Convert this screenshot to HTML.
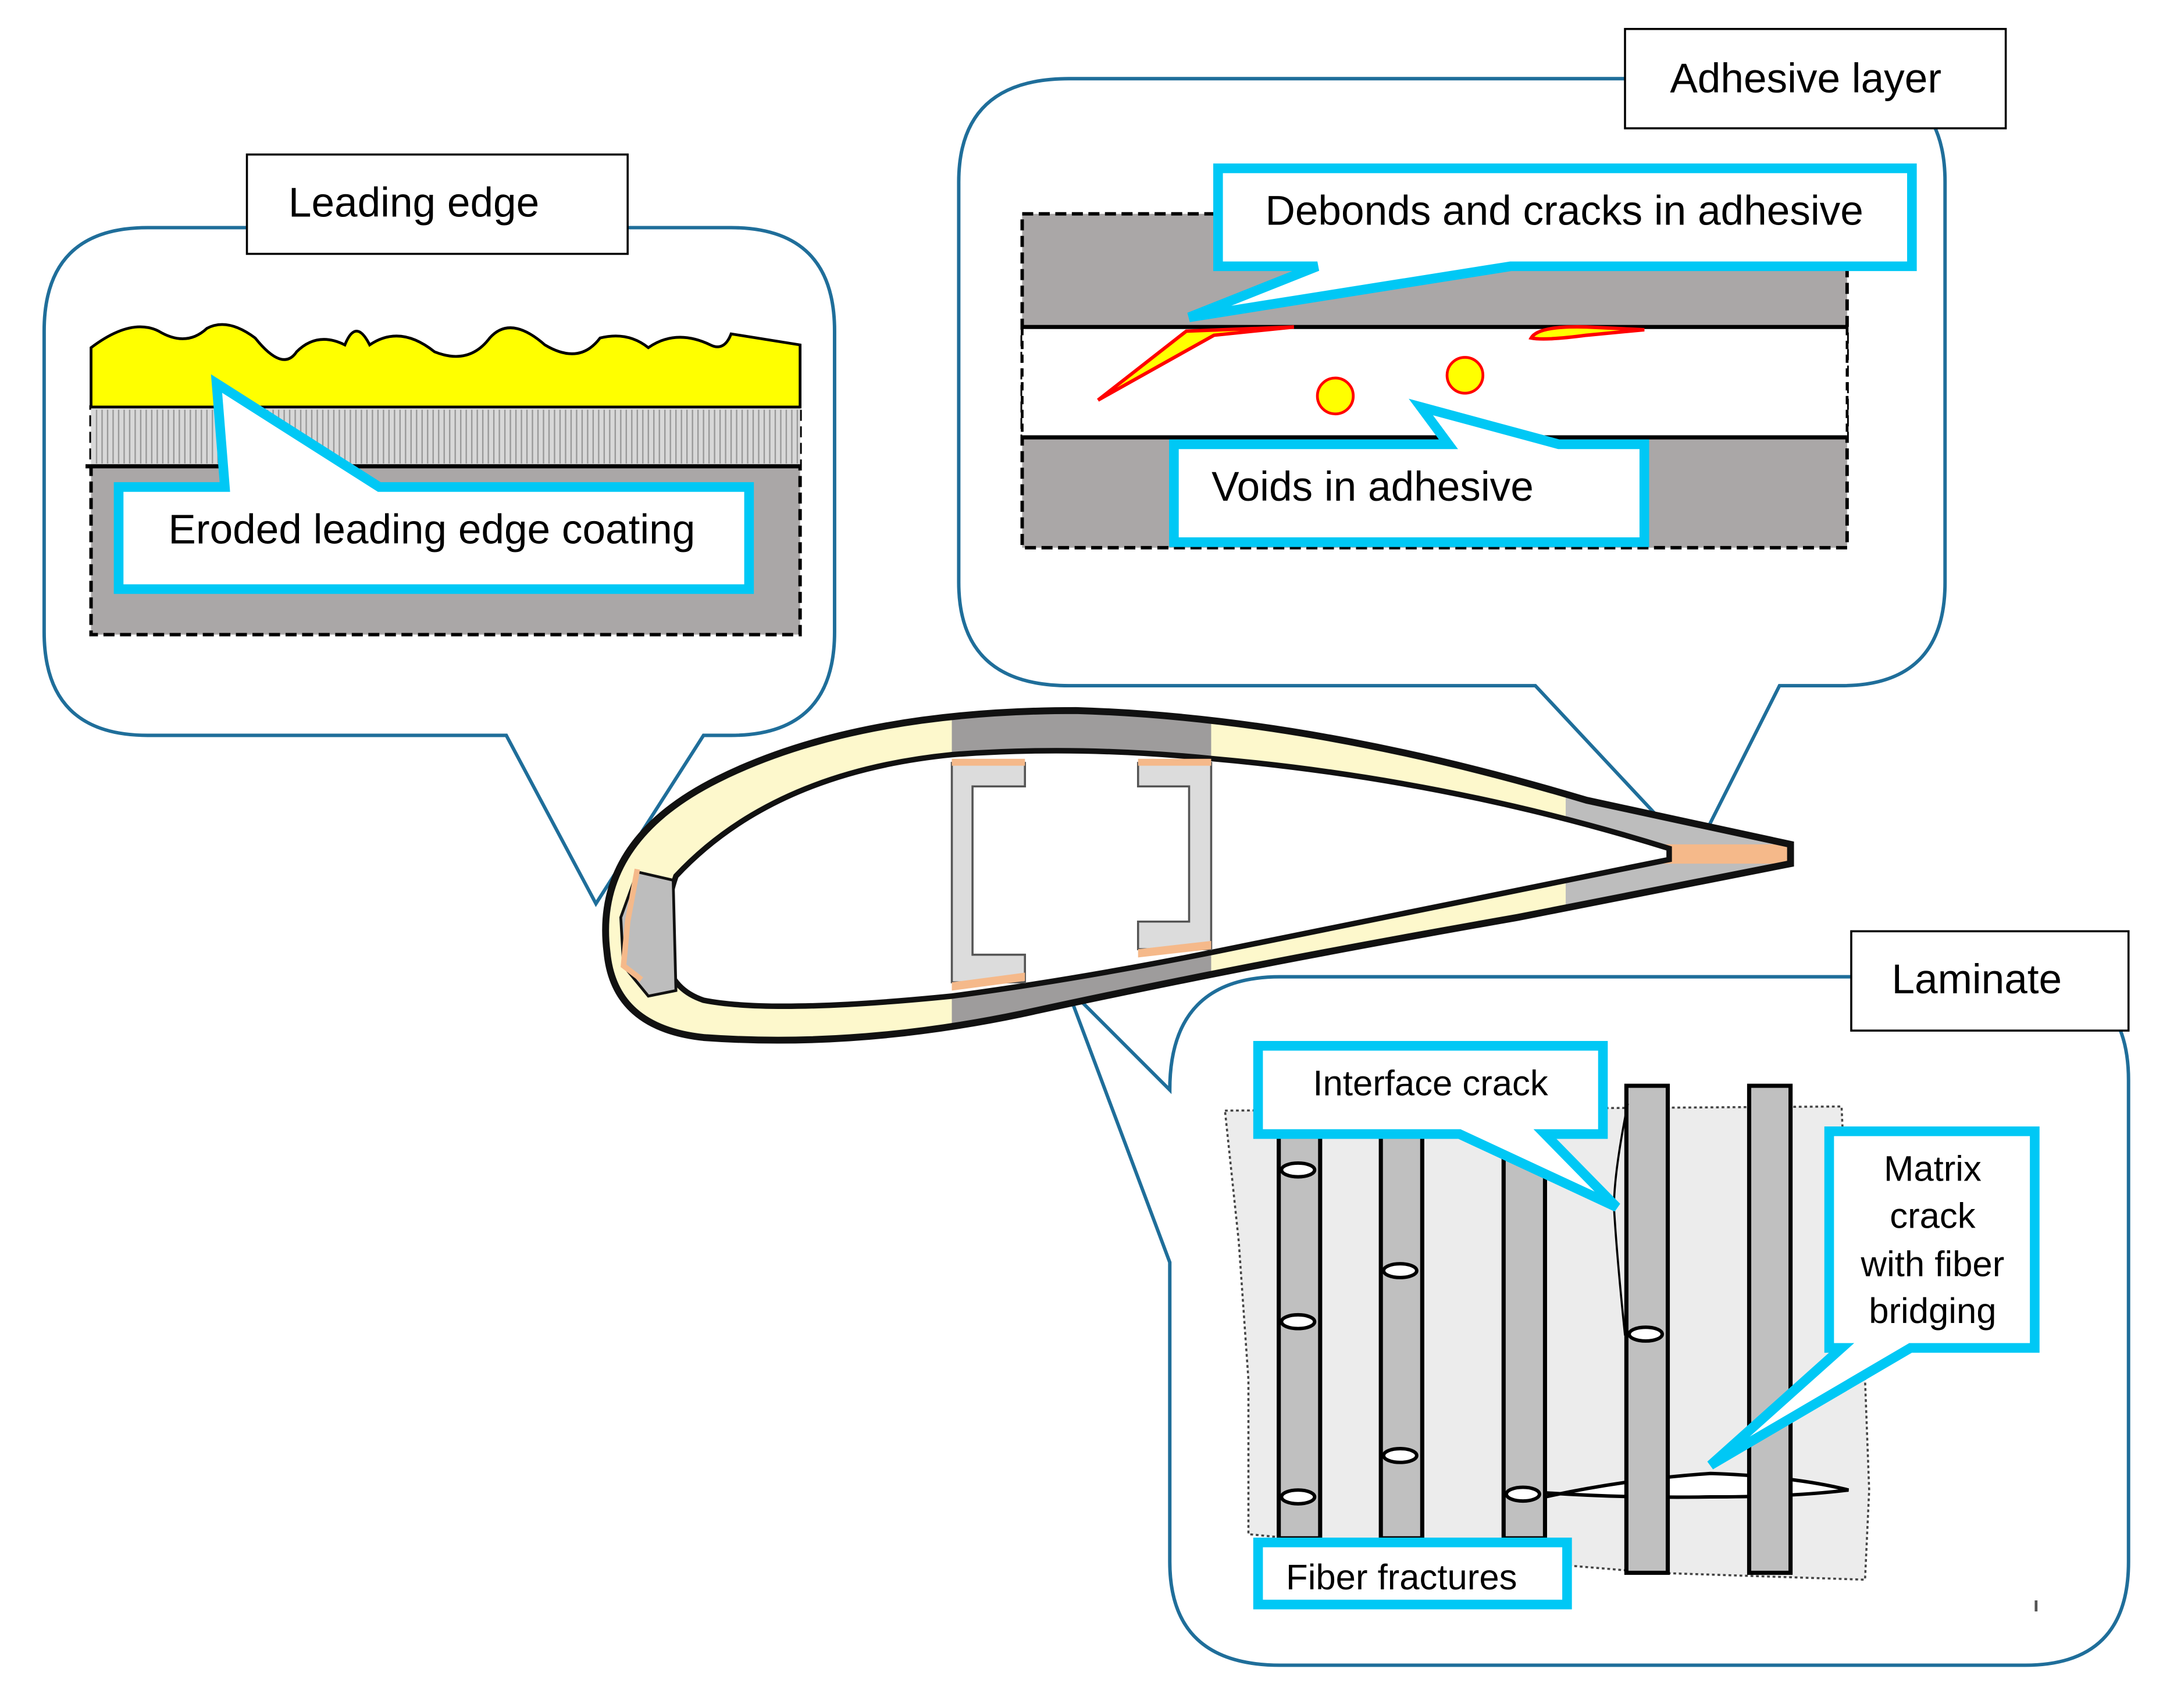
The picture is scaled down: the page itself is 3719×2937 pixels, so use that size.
<!DOCTYPE html>
<html><head><meta charset="utf-8"><style>
html,body{margin:0;padding:0;background:#fff}
svg{display:block}
text{font-family:"Liberation Sans",sans-serif}
</style></head><body>
<svg width="3719" height="2937" viewBox="0 0 1568 1238" preserveAspectRatio="none" xmlns="http://www.w3.org/2000/svg">
<rect width="1600" height="1260" fill="#fff"/>
<path d="M107,165 H530 Q605,165 605,240 V458 Q605,533 530,533 H510 L432,655 L367,533 H107 Q32,533 32,458 V240 Q32,165 107,165 Z" fill="#fff" stroke="#1f6e9a" stroke-width="2.5"/>
<rect x="179" y="112" width="276" height="72" fill="#fff" stroke="#000" stroke-width="1.5"/>
<text x="300" y="157" font-size="30" text-anchor="middle">Leading edge</text>
<rect x="66" y="295" width="514" height="165" fill="#aaa7a7" stroke="#000" stroke-width="2.5" stroke-dasharray="8,4"/>
<rect x="66" y="295" width="514" height="43" fill="#d8d8d8"/>
<g stroke="#999" stroke-width="1">
<path d="M70,297V336M74,297V336M78,297V336M82,297V336M86,297V336M90,297V336M94,297V336M98,297V336M102,297V336M106,297V336M110,297V336M114,297V336M118,297V336M122,297V336M126,297V336M130,297V336M134,297V336M138,297V336M142,297V336M146,297V336M150,297V336M154,297V336M158,297V336M162,297V336M166,297V336M170,297V336M174,297V336M178,297V336M182,297V336M186,297V336M190,297V336M194,297V336M198,297V336M202,297V336M206,297V336M210,297V336M214,297V336M218,297V336M222,297V336M226,297V336M230,297V336M234,297V336M238,297V336M242,297V336M246,297V336M250,297V336M254,297V336M258,297V336M262,297V336M266,297V336M270,297V336M274,297V336M278,297V336M282,297V336M286,297V336M290,297V336M294,297V336M298,297V336M302,297V336M306,297V336M310,297V336M314,297V336M318,297V336M322,297V336M326,297V336M330,297V336M334,297V336M338,297V336M342,297V336M346,297V336M350,297V336M354,297V336M358,297V336M362,297V336M366,297V336M370,297V336M374,297V336M378,297V336M382,297V336M386,297V336M390,297V336M394,297V336M398,297V336M402,297V336M406,297V336M410,297V336M414,297V336M418,297V336M422,297V336M426,297V336M430,297V336M434,297V336M438,297V336M442,297V336M446,297V336M450,297V336M454,297V336M458,297V336M462,297V336M466,297V336M470,297V336M474,297V336M478,297V336M482,297V336M486,297V336M490,297V336M494,297V336M498,297V336M502,297V336M506,297V336M510,297V336M514,297V336M518,297V336M522,297V336M526,297V336M530,297V336M534,297V336M538,297V336M542,297V336M546,297V336M550,297V336M554,297V336M558,297V336M562,297V336M566,297V336M570,297V336M574,297V336M578,297V336"/>
</g>
<line x1="62" y1="338" x2="580" y2="338" stroke="#000" stroke-width="3"/>
<path d="M66,295 V252 Q95,230 115,240 Q135,252 150,238 Q165,230 185,245 Q205,270 215,255 Q230,240 250,250 Q258,230 268,250 Q290,235 315,255 Q340,265 355,245 Q370,228 395,250 Q420,265 435,245 Q455,240 470,252 Q490,238 515,250 Q525,255 530,242 L580,250 V295 Z" fill="#ffff00" stroke="#000" stroke-width="2"/>
<path d="M86,353 H163 L157,278 L275,353 H543 V427 H86 Z" fill="#fff" stroke="#00c8f5" stroke-width="7"/>
<text x="313" y="394" font-size="30" text-anchor="middle">Eroded leading edge coating</text>

<path d="M775,57 H1335 Q1410,57 1410,132 V422 Q1410,497 1335,497 H1290 L1228,620 L1113,497 H775 Q695,497 695,422 V132 Q695,57 775,57 Z" fill="#fff" stroke="#1f6e9a" stroke-width="2.5"/>
<rect x="1178" y="21" width="276" height="72" fill="#fff" stroke="#000" stroke-width="1.5"/>
<text x="1309" y="67" font-size="30" text-anchor="middle">Adhesive layer</text>
<rect x="741" y="155" width="598" height="242" fill="#aaa7a7" stroke="#000" stroke-width="2.5" stroke-dasharray="8,4"/>
<rect x="741" y="237" width="598" height="80" fill="#fff"/>
<line x1="741" y1="237" x2="1339" y2="237" stroke="#000" stroke-width="3"/>
<line x1="741" y1="317" x2="1339" y2="317" stroke="#000" stroke-width="3"/>
<line x1="741" y1="237" x2="741" y2="317" stroke="#000" stroke-width="2" stroke-dasharray="6,4"/>
<line x1="1339" y1="237" x2="1339" y2="317" stroke="#000" stroke-width="2" stroke-dasharray="6,4"/>
<path d="M796,290 L860,240 L938,237 L880,243 Z" fill="#ffff00" stroke="#ff0000" stroke-width="2.5"/>
<path d="M1110,245 Q1115,236 1150,237 L1192,239 L1150,243 Q1120,247 1110,245 Z" fill="#ffff00" stroke="#ff0000" stroke-width="2.5"/>
<circle cx="968" cy="287" r="13" fill="#ffff00" stroke="#ff0000" stroke-width="2"/>
<circle cx="1062" cy="272" r="13" fill="#ffff00" stroke="#ff0000" stroke-width="2"/>
<path d="M883,122 H1386 V193 H1095 L862,230 L955,193 H883 Z" fill="#fff" stroke="#00c8f5" stroke-width="7"/>
<text x="1134" y="163" font-size="30" text-anchor="middle">Debonds and cracks in adhesive</text>
<path d="M851,322 H1050 L1030,295 L1130,322 H1192 V393 H851 Z" fill="#fff" stroke="#00c8f5" stroke-width="7"/>
<text x="995" y="363" font-size="30" text-anchor="middle">Voids in adhesive</text>

<path d="M928,708 H1468 Q1543,708 1543,783 V1132 Q1543,1207 1468,1207 H928 Q848,1207 848,1132 V915 L773,715 L848,790 Q848,708 928,708 Z" fill="#fff" stroke="#1f6e9a" stroke-width="2.5"/>
<rect x="1342" y="675" width="201" height="72" fill="#fff" stroke="#000" stroke-width="1.5"/>
<text x="1433" y="720" font-size="30" text-anchor="middle">Laminate</text>
<path d="M888,805 L1335,802 L1338,870 L1345,930 L1352,1000 L1355,1080 L1352,1145 L1200,1140 L1140,1135 L905,1112 L905,1000 L898,900 Z" fill="#ececec" stroke="#444" stroke-width="1.5" stroke-dasharray="2,2"/>
<g fill="#c0c0c0" stroke="#000" stroke-width="3">
<rect x="927" y="810" width="30" height="305"/>
<rect x="1001" y="810" width="30" height="305"/>
<rect x="1090" y="810" width="30" height="305"/>
</g>
<path d="M1120,1085 Q1180,1072 1240,1068 Q1300,1070 1340,1080 Q1300,1085 1240,1085 Q1180,1086 1120,1082 Z" fill="#fff" stroke="#000" stroke-width="2.5"/>
<g fill="#c0c0c0" stroke="#000" stroke-width="3">
<rect x="1179" y="787" width="30" height="353"/>
<rect x="1268" y="787" width="30" height="353"/>
</g>
<path d="M1180,800 Q1170,850 1170,875 Q1172,910 1178,968" fill="none" stroke="#000" stroke-width="1.5"/>
<g fill="#fff" stroke="#000" stroke-width="2.5">
<ellipse cx="941" cy="848" rx="12" ry="5"/><ellipse cx="941" cy="958" rx="12" ry="5"/><ellipse cx="941" cy="1085" rx="12" ry="5"/>
<ellipse cx="1015" cy="921" rx="12" ry="5"/><ellipse cx="1015" cy="1055" rx="12" ry="5"/>
<ellipse cx="1104" cy="1083" rx="12" ry="5"/><ellipse cx="1193" cy="967" rx="12" ry="5"/>
</g>
<path d="M912,758 H1162 V822 H1120 L1172,875 L1058,822 H912 Z" fill="#fff" stroke="#00c8f5" stroke-width="7"/>
<text x="1037" y="794" font-size="26" text-anchor="middle">Interface crack</text>
<path d="M1326,820 H1475 V977 H1385 L1240,1062 L1335,977 H1326 Z" fill="#fff" stroke="#00c8f5" stroke-width="7"/>
<g font-size="26" text-anchor="middle"><text x="1401" y="856">Matrix</text><text x="1401" y="890">crack</text><text x="1401" y="925">with fiber</text><text x="1401" y="959">bridging</text></g>
<rect x="912" y="1118" width="224" height="45" fill="#fff" stroke="#00c8f5" stroke-width="7"/>
<text x="1016" y="1152" font-size="26" text-anchor="middle">Fiber fractures</text>
<rect x="1475" y="1160" width="2" height="8" fill="#555"/>

<defs>
<clipPath id="shell"><path d="M440,690 Q430,610 520,565 Q620,515 780,515 Q950,520 1150,580 L1298,612 L1298,626 L1100,665 Q900,700 740,735 Q620,760 510,752 Q445,745 440,690 Z"/></clipPath>
</defs>
<path d="M440,690 Q430,610 520,565 Q620,515 780,515 Q950,520 1150,580 L1298,612 L1298,626 L1100,665 Q900,700 740,735 Q620,760 510,752 Q445,745 440,690 Z" fill="#fdf8cc"/>
<g clip-path="url(#shell)">
<rect x="690" y="500" width="188" height="280" fill="#9e9c9c"/>
<rect x="1135" y="560" width="170" height="120" fill="#bdbdbd"/>
<rect x="1205" y="612" width="95" height="14" fill="#f5b98a"/>
</g>
<path d="M490,635 Q560,560 690,547 Q780,540 880,550 Q1050,565 1210,615 L1210,623 Q1050,655 880,690 Q780,710 690,722 Q560,735 510,725 Q480,715 482,680 Q483,655 490,635 Z" fill="#fff" stroke="#111" stroke-width="4"/>
<path d="M440,690 Q430,610 520,565 Q620,515 780,515 Q950,520 1150,580 L1298,612 L1298,626 L1100,665 Q900,700 740,735 Q620,760 510,752 Q445,745 440,690 Z" fill="none" stroke="#111" stroke-width="5"/>
<path d="M462,632 L488,638 L490,718 L470,722 L452,700 L450,665 Z" fill="#bdbdbd" stroke="#111" stroke-width="2"/>
<path d="M462,630 L455,668 L452,700 L465,710" fill="none" stroke="#f5b98a" stroke-width="4"/>
<path d="M690,553 H743 V570 H705 V692 H743 V712 H690 Z" fill="#dcdcdc" stroke="#555" stroke-width="1.5"/>
<path d="M878,553 H825 V570 H862 V668 H825 V688 H878 Z" fill="#dcdcdc" stroke="#555" stroke-width="1.5"/>
<rect x="690" y="550" width="53" height="5" fill="#f5b98a"/>
<rect x="825" y="550" width="53" height="5" fill="#f5b98a"/>
<path d="M690,712 L743,705 L743,711 L690,718 Z" fill="#f5b98a"/>
<path d="M825,688 L878,682 L878,688 L825,694 Z" fill="#f5b98a"/>
</svg>
</body></html>
